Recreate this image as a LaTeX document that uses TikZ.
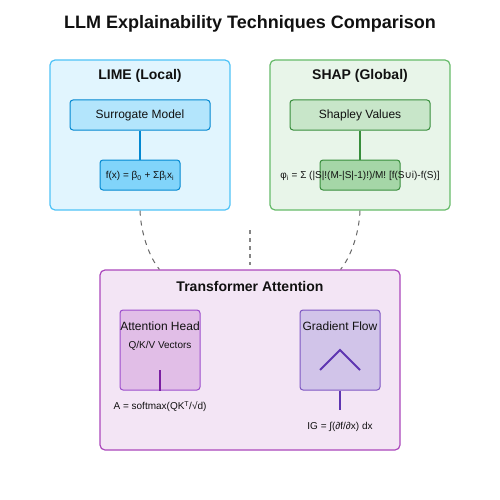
\documentclass[tikz,border=0pt]{standalone}
\usepackage{fontspec}
\setmainfont{Liberation Sans}
\newfontfamily\dejavu{DejaVu Sans}
\usetikzlibrary{calc}
\definecolor{limeBg}{HTML}{E1F5FE}
\definecolor{limeSt}{HTML}{4FC3F7}
\definecolor{limeIn}{HTML}{B3E5FC}
\definecolor{limeIn2}{HTML}{81D4FA}
\definecolor{limeDk}{HTML}{0288D1}
\definecolor{shapBg}{HTML}{E8F5E9}
\definecolor{shapSt}{HTML}{66BB6A}
\definecolor{shapIn}{HTML}{C8E6C9}
\definecolor{shapIn2}{HTML}{A5D6A7}
\definecolor{shapDk}{HTML}{388E3C}
\definecolor{trBg}{HTML}{F3E5F5}
\definecolor{trSt}{HTML}{AB47BC}
\definecolor{attIn}{HTML}{E1BEE7}
\definecolor{attSt}{HTML}{9C4DCC}
\definecolor{attDk}{HTML}{7B1FA2}
\definecolor{grIn}{HTML}{D1C4E9}
\definecolor{grSt}{HTML}{7E57C2}
\definecolor{grDk}{HTML}{5E35B1}
\definecolor{txt}{HTML}{111111}
\definecolor{dashc}{HTML}{666666}
\tikzset{
  panel/.style={draw=#1, line width=1.2pt, rounded corners=5pt, inner sep=0pt},
  inbox/.style={draw=#1, line width=1pt, rounded corners=3pt, inner sep=0pt},
  ttl/.style={font=\bfseries\fontsize{14}{16}\selectfont, text=txt, inner sep=0pt},
  lbl/.style={font=\fontsize{12}{14}\selectfont, text=txt, inner sep=0pt},
  sml/.style={font=\fontsize{10}{12}\selectfont, text=txt, inner sep=0pt},
  link/.style={draw=#1, line width=2pt},
  dlink/.style={draw=dashc, line width=1pt, dash pattern=on 5pt off 5pt},
}
\begin{document}
\begin{tikzpicture}[x=1pt,y=-1pt]
\useasboundingbox (0,0) rectangle (500,500);
\fill[white] (0,0) rectangle (500,500);
\node[font=\bfseries\fontsize{18}{20}\selectfont, text=txt, inner sep=0pt] (title) at (250,24) {LLM Explainability Techniques Comparison};

% LIME
\node[panel=limeSt, fill=limeBg, minimum width=180pt, minimum height=150pt] (lime) at (140,135) {};
\node[ttl] (limet) at (140,76) {LIME (Local)};
\node[inbox=limeDk, fill=limeIn, minimum width=140pt, minimum height=30pt] (surr) at (140,115) {};
\node[lbl] (surrt) at (140,115.5) {Surrogate Model};
\node[inbox=limeDk, fill=limeIn2, minimum width=80pt, minimum height=30pt] (fx) at (140,175) {};
\node[sml] (fxt) at (140,176) {f(x) = β\textsubscript{0} + Σβ\textsubscript{i}x\textsubscript{i}};
\draw[link=limeDk] (surr.south) -- (fx.north);

% SHAP
\node[panel=shapSt, fill=shapBg, minimum width=180pt, minimum height=150pt] (shap) at (360,135) {};
\node[ttl] (shapt) at (360,76) {SHAP (Global)};
\node[inbox=shapDk, fill=shapIn, minimum width=140pt, minimum height=30pt] (shv) at (360,115) {};
\node[lbl] (shvt) at (360,115.5) {Shapley Values};
\node[inbox=shapDk, fill=shapIn2, minimum width=80pt, minimum height=30pt] (phi) at (360,175) {};
\node[sml] (phit) at (360,176) {φ\textsubscript{i} = Σ (|S|!(M-|S|-1)!)/M! [f(S{\dejavu ∪}i)-f(S)]};
\draw[link=shapDk] (shv.south) -- (phi.north);

% Transformer
\node[panel=trSt, fill=trBg, minimum width=300pt, minimum height=180pt] (tr) at (250,360) {};
\node[ttl] (trt) at (250,286) {Transformer Attention};

\node[inbox=attSt, fill=attIn, minimum width=80pt, minimum height=80pt] (att) at (160,350) {};
\node[lbl] (attt) at (160,326) {Attention Head};
\node[sml] (qkv) at (160,346) {Q/K/V Vectors};
\coordinate (attTop) at (160,370);
\draw[link=attDk] (attTop) -- (att.south);
\node[sml] (soft) at (160,406.5) {A = softmax(QK\textsuperscript{T}/√d)};

\node[inbox=grSt, fill=grIn, minimum width=80pt, minimum height=80pt] (gr) at (340,350) {};
\node[lbl] (grt) at (340,326) {Gradient Flow};
\draw[draw=grDk, line width=2pt] (320,370) -- (340,350) -- (360,370);
\coordinate (grEnd) at (340,410);
\draw[link=grDk] (gr.south) -- (grEnd);
\node[sml] (ig) at (340,426.5) {IG = ∫(∂f/∂x) dx};

% dashed connectors
\draw[dlink] (lime.south) .. controls (141,235) and (150,258) .. ($(tr.north west)+(60,0)$);
\draw[dlink] (shap.south) .. controls (359,235) and (350,258) .. ($(tr.north east)+(-60,0)$);
\coordinate (cTop) at (250,230);
\coordinate (cBot) at (250,265);
\draw[draw=dashc!80, line width=1.5pt, dash pattern=on 4pt off 4pt] (cTop) -- (cBot);
\end{tikzpicture}
\end{document}
